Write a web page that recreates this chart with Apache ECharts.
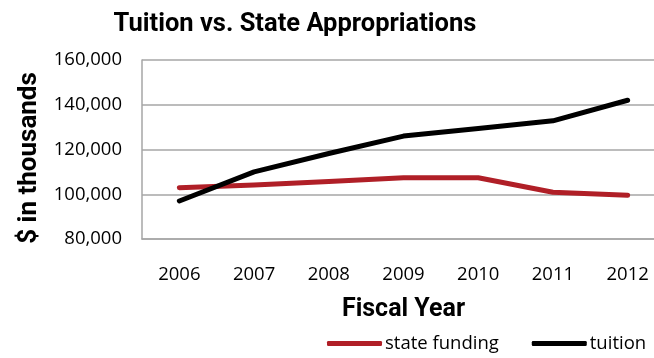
<!DOCTYPE html>
<html>
<head>
<meta charset="utf-8">
<script src="https://cdn.jsdelivr.net/npm/echarts@6/dist/echarts.min.js"></script>
<style>
  html, body { margin: 0; padding: 0; background: #fff; }
  #chart { width: 654px; height: 358px; }
</style>
</head>
<body>
<div id="chart"></div>
<script>
// Fiscal years on the x axis
const years = ['2006', '2007', '2008', '2009', '2010', '2011', '2012'];
// $ in thousands
const stateFunding = [102900, 104100, 105700, 107400, 107400, 100900, 99500];
const tuition = [97000, 110000, 118200, 126000, 129400, 132800, 142000];
// y axis range and step
const yMin = 80000;
const yMax = 160000;
const yStep = 20000;

const FONT = '"Open Sans", "Noto Sans", sans-serif';
const BOLD = 'Roboto, "Open Sans", sans-serif';

const chart = echarts.init(document.getElementById('chart'), null, { renderer: 'canvas' });

chart.setOption({
  animation: false,
  backgroundColor: '#ffffff',
  title: {
    text: 'Tuition vs. State Appropriations',
    left: 290,
    top: 7,
    textAlign: 'center',
    textStyle: { fontFamily: BOLD, fontWeight: 'bold', fontSize: 25.5, color: '#000' }
  },
  legend: {
    left: 327,
    top: 334,
    padding: 0,
    itemWidth: 55,
    itemHeight: 5,
    itemGap: 33,
    icon: 'roundRect',
    textStyle: { fontFamily: FONT, fontSize: 18.5, color: '#000', padding: [0, 0, 0, -2] },
    data: ['state funding', 'tuition']
  },
  grid: {
    left: 142,
    width: 523,
    top: 60,
    height: 179,
    containLabel: false,
    outerBoundsMode: 'none'
  },
  xAxis: {
    type: 'category',
    data: years,
    boundaryGap: true,
    name: 'Fiscal Year',
    nameLocation: 'middle',
    nameGap: 58,
    nameTextStyle: { fontFamily: BOLD, fontWeight: 'bold', fontSize: 25, color: '#000' },
    axisLine: { show: true, lineStyle: { color: '#a6a6a6', width: 1.5 } },
    axisTick: { show: false },
    axisLabel: { fontFamily: FONT, fontSize: 18.5, color: '#000', margin: 26 }
  },
  yAxis: {
    type: 'value',
    min: yMin,
    max: yMax,
    interval: yStep,
    name: '$ in thousands',
    nameLocation: 'middle',
    nameGap: 99,
    nameRotate: 90,
    nameTextStyle: { fontFamily: BOLD, fontWeight: 'bold', fontSize: 26, color: '#000', padding: [0, 0, 0, -17] },
    axisLine: { show: true, lineStyle: { color: '#a6a6a6', width: 1.5 } },
    axisTick: { show: false },
    splitLine: { show: true, lineStyle: { color: '#a6a6a6', width: 1.5 } },
    axisLabel: {
      fontFamily: FONT, fontSize: 18.5, color: '#000', margin: 20,
      formatter: v => v.toLocaleString('en-US')
    }
  },
  series: [
    {
      name: 'state funding',
      type: 'line',
      data: stateFunding,
      symbol: 'none',
      color: '#b01f27',
      lineStyle: { width: 5, color: '#b01f27', cap: 'round', join: 'round' }
    },
    {
      name: 'tuition',
      type: 'line',
      data: tuition,
      symbol: 'none',
      color: '#000000',
      lineStyle: { width: 5, color: '#000000', cap: 'round', join: 'round' }
    }
  ]
});
</script>
</body>
</html>
